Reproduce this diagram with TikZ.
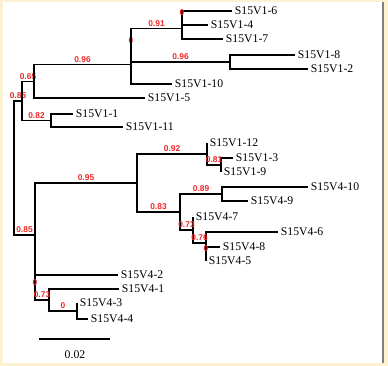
\documentclass[tikz,border=0pt]{standalone}
\usepackage{fontspec}
\setmainfont{Liberation Serif}
\newfontfamily\bsfont{Liberation Sans}
\definecolor{cream}{RGB}{252,242,210}
\definecolor{bsred}{RGB}{240,40,40}

\begin{document}
\begin{tikzpicture}[x=0.75pt,y=-0.75pt,
    branch/.style={line width=1.1pt},
    leaf/.style={anchor=west, inner sep=2pt, font=\fontsize{8.8}{10}\selectfont},
    bs/.style={anchor=south, inner sep=1pt, text=bsred, font=\bsfont\bfseries\fontsize{6.3}{7}\selectfont}]
        \useasboundingbox (0,0) rectangle (388,366);

        % frame
        \fill[cream] (0,0) rectangle (388,366);
        \fill[white] (3,2) rectangle (382,363);
        \draw[gray, line width=1.1pt] (383,2) -- (383,363);

        % inner nodes
        \coordinate (r) at (14,168);
        \coordinate (a) at (22,101);
        \coordinate (b) at (34,81.4);
        \coordinate (c) at (131,64.75);
        \coordinate (d) at (131,45.5);
        \coordinate (e) at (182,28.5);
        \coordinate (f) at (182,18);
        \coordinate (g) at (230,62);
        \coordinate (h) at (51,120.5);
        \coordinate (i) at (35,235);
        \coordinate (j) at (137,183);
        \coordinate (k) at (207,154);
        \coordinate (l) at (221,165);
        \coordinate (m) at (180,212);
        \coordinate (n) at (222,194);
        \coordinate (o) at (193,230);
        \coordinate (p) at (206,243);
        \coordinate (q) at (206,254);
        \coordinate (s) at (35,287.5);
        \coordinate (t) at (49,300);
        \coordinate (u) at (77,311);

        % leaves
        \foreach \nm/\px/\py/\up/\txt in {
            vAf/232/11/f/S15V1-6, vAd/208/25/f/S15V1-4, vAg/223/39/e/S15V1-7,
            vAh/295/55/g/S15V1-8, vAb/308/69/g/S15V1-2, vAj/172/84/c/S15V1-10,
            vAe/145/98/b/S15V1-5, vAa/73/114/h/S15V1-1, vAk/123/127/h/S15V1-11,
            vAl/207/143/k/S15V1-12, vAc/233/158/l/S15V1-3, vAi/221/172/l/S15V1-9,
            vBj/308/187/n/S15V4-10, vBi/248/201/n/S15V4-9, vBg/193/217/o/S15V4-7,
            vBf/278/232/p/S15V4-6, vBh/220/247/q/S15V4-8, vBe/206/261/q/S15V4-5,
            vBb/118/275/s/S15V4-2, vBa/119/289/t/S15V4-1, vBc/77/303/u/S15V4-3,
            vBd/88/319/u/S15V4-4} {
            \coordinate (\nm) at (\px,\py);
            \node[leaf] (t\nm) at (\nm) {\txt};
            \draw[branch] (\up) |- (\nm);
        }

        % branches with support values
        \foreach \pa/\ch/\val in {r/a/0.85, a/b/0.65, b/c/0.96, c/d/0, d/e/0.91,
            e/f/0, d/g/0.96, a/h/0.82, r/i/0.85, i/j/0.95, j/k/0.92, k/l/0.81,
            j/m/0.83, m/n/0.89, m/o/0.73, o/p/0.76, p/q/0, i/s/0, s/t/0.73, t/u/0}
            \draw[branch] (\pa) |- (\ch) node[bs, pos=0.75] {\val};

        % scale
        \coordinate (sa) at (39,339);
        \coordinate (sb) at (110,339);
        \draw[line width=1.1pt] (sa) -- (sb);
        \node[font=\fontsize{8.8}{10}\selectfont] (scl) at (75,355) {0.02};
\end{tikzpicture}
\end{document}
